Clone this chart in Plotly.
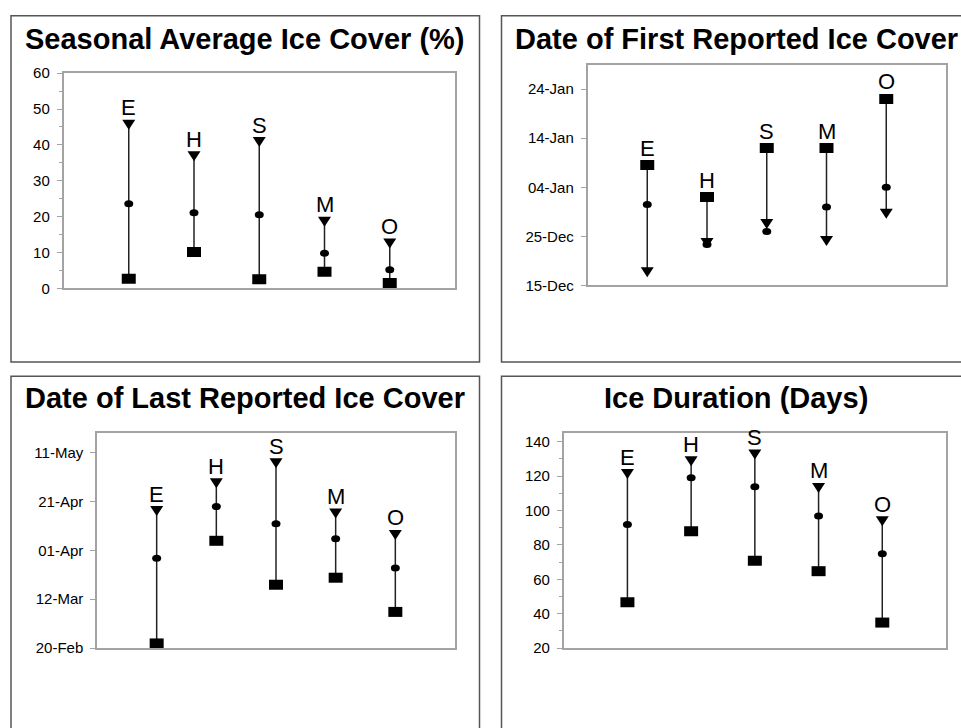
import plotly.graph_objects as go

W, H = 961, 728
FONT = "Liberation Sans, Arial, sans-serif"

stations = ["E", "H", "S", "M", "O"]

# Seasonal average ice cover (%): severe winter, mean, mild winter
cover_severe = [45.6, 36.8, 40.8, 18.6, 12.5]
cover_mean = [23.6, 21.1, 20.5, 9.8, 5.2]
cover_mild = [2.7, 10.1, 2.5, 4.6, 1.5]

# Date of first reported ice cover
first_severe = ["2000-12-17 16:00", "2000-12-23 16:00", "2000-12-27 12:00", "2000-12-24 01:00", "2000-12-29 14:00"]
first_mean = ["2000-12-31 12:00", "2000-12-23 08:00", "2000-12-26 00:00", "2000-12-31 00:00", "2001-01-04 00:00"]
first_mild = ["2001-01-08 13:00", "2001-01-02 00:00", "2001-01-12 00:00", "2001-01-12 00:00", "2001-01-22 00:00"]

# Date of last reported ice cover
last_severe = ["2001-04-17 02:00", "2001-04-28 12:00", "2001-05-06 17:00", "2001-04-16 02:00", "2001-04-07 07:00"]
last_mean = ["2001-03-28 19:00", "2001-04-18 22:00", "2001-04-11 22:00", "2001-04-05 19:00", "2001-03-24 19:00"]
last_mild = ["2001-02-21 21:00", "2001-04-04 22:00", "2001-03-17 22:00", "2001-03-20 19:00", "2001-03-06 19:00"]

# Ice duration (days)
dur_severe = [121.2, 128.6, 132.6, 113.1, 93.7]
dur_mean = [91.8, 119.0, 113.8, 96.8, 74.8]
dur_mild = [46.7, 87.9, 70.8, 64.7, 34.8]

titles = [
    "Seasonal Average Ice Cover (%)",
    "Date of First Reported Ice Cover",
    "Date of Last Reported Ice Cover",
    "Ice Duration (Days)",
]

panels = [
    (cover_severe, cover_mean, cover_mild),
    (first_severe, first_mean, first_mild),
    (last_severe, last_mean, last_mild),
    (dur_severe, dur_mean, dur_mild),
]

# plot-area boxes in pixels: (left, top, right, bottom)
areas = [
    (63.5, 65.7, 455, 286),
    (587.5, 57, 946, 283),
    (97, 434.3, 455, 654.3),
    (563.7, 434.3, 946, 654.3),
]
# outer panel frames in pixels
frames = [
    (11, 7, 479.5, 361.5),
    (501.5, 7, 975, 361.5),
    (11, 376, 479.5, 740),
    (501.5, 376, 975, 740),
]
# title placement: (x, y, anchor)
title_pos = [(245, 31, "center"), (513, 31, "left"), (245, 398, "center"), (736, 398, "center")]


def px(x):
    return x / W


def py(y):
    return 1 - y / H


fig = go.Figure()
shapes = []
annotations = []

AXIS_GRAY = "#a3a3a3"
LINE_COL = "#222222"

for k, (sev, mean, mild) in enumerate(panels):
    n = "" if k == 0 else str(k + 1)
    xr, yr = "x" + n, "y" + n
    xs = list(range(len(stations)))

    # vertical range lines from severe to mild value
    lx, ly = [], []
    for i in xs:
        lx += [i, i, None]
        ly += [sev[i], mild[i], None]
    fig.add_trace(go.Scatter(x=lx, y=ly, mode="lines", xaxis=xr, yaxis=yr,
                             line=dict(color=LINE_COL, width=1.5),
                             hoverinfo="skip", showlegend=False))

    base = dict(xref=xr, yref=yr, xsizemode="pixel", ysizemode="pixel",
                fillcolor="black", line=dict(width=0), layer="above")
    for i in xs:
        shapes.append(dict(base, type="path", xanchor=i, yanchor=sev[i],
                           path="M-6.5,5 L6.5,5 L0,-5 Z"))
        shapes.append(dict(base, type="circle", xanchor=i, yanchor=mean[i],
                           x0=-4.5, x1=4.5, y0=-3.5, y1=3.5))
        shapes.append(dict(base, type="rect", xanchor=i, yanchor=mild[i],
                           x0=-7, x1=7, y0=-5, y1=5))
        top = max(sev[i], mean[i], mild[i])
        annotations.append(dict(x=i, y=top, xref=xr, yref=yr, text=stations[i],
                                showarrow=False, yshift=17,
                                font=dict(family=FONT, size=22, color="black")))

    l, t, r, b = areas[k]
    xaxis = dict(domain=[px(l), px(r)], range=[-1, 5], showticklabels=False,
                 ticks="", showgrid=False, zeroline=False, showline=True,
                 mirror=True, linecolor=AXIS_GRAY, linewidth=1.5,
                 anchor=yr, fixedrange=True)
    yaxis = dict(domain=[py(b), py(t)], showgrid=False, zeroline=False,
                 showline=True, mirror=True, linecolor=AXIS_GRAY, linewidth=1.5,
                 ticks="outside", ticklen=5, tickwidth=1, tickcolor=AXIS_GRAY,
                 tickfont=dict(family=FONT, size=15, color="black"),
                 ticklabelstandoff=4, anchor=xr, fixedrange=True)
    if k == 0:
        yaxis.update(range=[0, 60], tick0=0, dtick=10,
                     minor=dict(dtick=5, ticks="outside", ticklen=3, tickcolor=AXIS_GRAY))
    elif k == 1:
        yaxis.update(type="date", range=["2000-12-15", "2001-01-29"],
                     tick0="2000-12-15", dtick=10 * 86400000, tickformat="%d-%b")
    elif k == 2:
        yaxis.update(type="date", range=["2001-02-20", "2001-05-19"],
                     tick0="2001-02-20", dtick=20 * 86400000, tickformat="%d-%b")
    else:
        yaxis.update(range=[20, 145], tick0=20, dtick=20,
                     minor=dict(dtick=10, ticks="outside", ticklen=3, tickcolor=AXIS_GRAY))
    fig.layout["xaxis" + n] = xaxis
    fig.layout["yaxis" + n] = yaxis

    fl, ft, fr, fb = frames[k]
    shapes.append(dict(type="rect", xref="paper", yref="paper",
                       x0=px(fl), x1=px(fr), y0=py(fb), y1=py(ft),
                       line=dict(color="#555555", width=1.5), layer="below"))

    tx, ty, anc = title_pos[k]
    annotations.append(dict(x=px(tx), y=py(ty), xref="paper", yref="paper",
                            text=titles[k], showarrow=False, xanchor=anc,
                            yanchor="middle",
                            font=dict(family=FONT, size=29, color="black", weight="bold")))

fig.update_layout(width=W, height=H, margin=dict(l=0, r=0, t=0, b=0),
                  paper_bgcolor="white", plot_bgcolor="white",
                  shapes=shapes, annotations=annotations, showlegend=False)

fig.write_html("out.html")
